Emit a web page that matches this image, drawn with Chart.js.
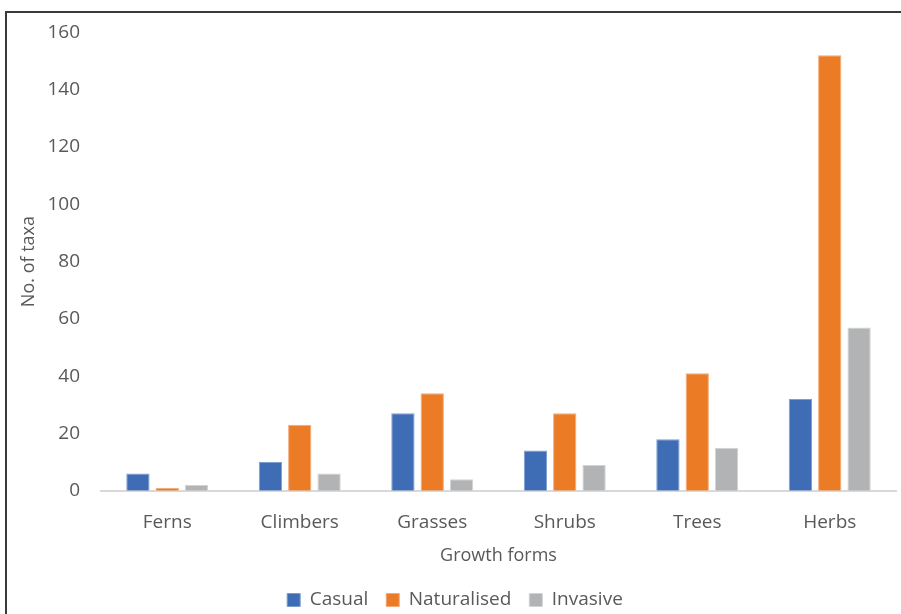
<!DOCTYPE html>
<html>
<head>
<meta charset="utf-8">
<script src="https://cdn.jsdelivr.net/npm/chart.js@4"></script>
<style>
  html, body { margin: 0; padding: 0; background: #fff; }
  #wrap { position: relative; width: 901px; height: 614px; overflow: hidden; }
  #frame { position: absolute; left: 5px; top: 11px; width: 1000px; height: 700px; border: 2px solid #3a3a3a; box-sizing: border-box; }
  #box { position: absolute; left: 0; top: 0; width: 901px; height: 614px; }
</style>
</head>
<body>
<div id="wrap">
  <div id="frame"></div>
  <div id="box"><canvas id="growthChart"></canvas></div>
</div>
<script>
const forms = ['Ferns', 'Climbers', 'Grasses', 'Shrubs', 'Trees', 'Herbs'];
const casual = [6, 10, 27, 14, 18, 32];
const naturalised = [1, 23, 34, 27, 41, 152];
const invasive = [2, 6, 4, 9, 15, 57];

const textGrey = '#595959';
const font = 'Open Sans';

const ctx = document.getElementById('growthChart').getContext('2d');
new Chart(ctx, {
    type: 'bar',
    data: {
        labels: forms,
        datasets: [
            { label: 'Casual', data: casual, backgroundColor: '#3e6cb5', borderColor: '#7d9dd0', borderWidth: 1 },
            { label: 'Naturalised', data: naturalised, backgroundColor: '#ec7b26', borderColor: '#f3aa77', borderWidth: 1 },
            { label: 'Invasive', data: invasive, backgroundColor: '#b2b3b4', borderColor: '#d2d3d4', borderWidth: 1 }
        ]
    },
    options: {
        responsive: true,
        maintainAspectRatio: false,
        animation: false,
        categoryPercentage: 0.664,
        barPercentage: 0.795,
        // bottom is negative so the legend row sits close to the lower edge
        layout: { padding: { left: 14, top: 30.3, right: 5, bottom: -5.5 } },
        scales: {
            y: {
                min: 0,
                max: 160,
                ticks: { stepSize: 20, padding: 21, color: textGrey, font: { family: font, size: 19 } },
                grid: { display: false, drawTicks: false },
                border: { display: false },
                title: { display: true, text: 'No. of taxa', color: textGrey, padding: { top: 4, bottom: 0 }, font: { family: font, size: 18 } },
                afterFit: s => { s.width = 87; }
            },
            x: {
                ticks: { padding: 20, color: textGrey, font: { family: font, size: 19 } },
                grid: { display: false, drawTicks: false },
                border: { display: true, color: '#d9d9d9', width: 2 },
                title: { display: true, text: 'Growth forms', color: textGrey, padding: { top: 0, bottom: 5.7 }, font: { family: font, size: 18 } },
                afterFit: s => { s.height = 81.8; }
            }
        },
        plugins: {
            legend: {
                position: 'bottom',
                labels: { boxWidth: 13, boxHeight: 13, padding: 18, color: textGrey, font: { family: font, size: 19 } }
            },
            tooltip: { enabled: false }
        }
    }
});
</script>
</body>
</html>
